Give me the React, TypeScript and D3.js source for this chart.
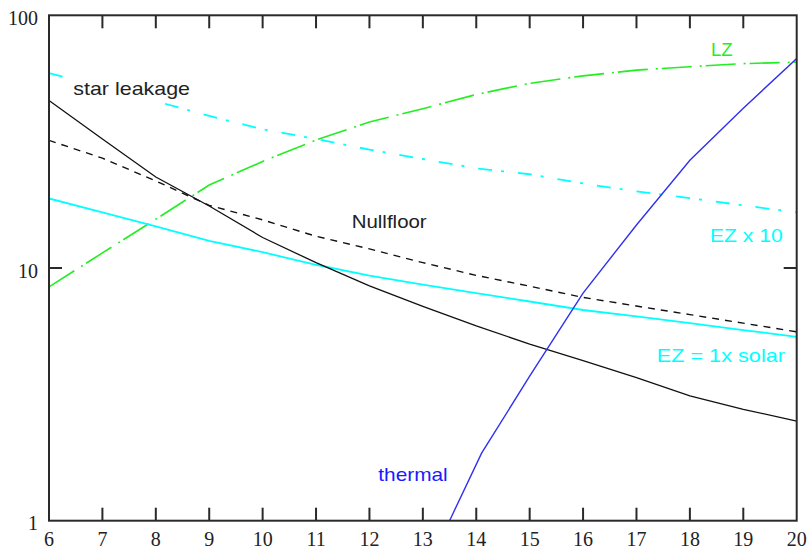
import React from "react";
import * as d3 from "d3";

// ---- data ----
const T = [6, 7, 8, 9, 10, 11, 12, 13, 14, 15, 16, 17, 18, 19, 20];
const starLeakage = [46, 32.4, 22.9, 17.6, 13.2, 10.5, 8.5, 7.05, 5.9, 5.0, 4.3, 3.68, 3.12, 2.76, 2.48];
const nullfloor = [32, 27.2, 22.1, 17.7, 15.5, 13.35, 11.9, 10.5, 9.35, 8.47, 7.65, 7.07, 6.54, 6.05, 5.59];
const ez1 = [18.84, 16.6, 14.6, 12.8, 11.55, 10.3, 9.33, 8.6, 7.95, 7.37, 6.82, 6.43, 6.05, 5.68, 5.34];
const ez10 = [59.1, 51.9, 45.7, 40.0, 35.4, 32.4, 29.4, 27.0, 24.8, 23.5, 21.6, 20.1, 18.9, 17.7, 16.6];
const lz = [8.42, 11.47, 15.6, 21.3, 26.4, 32.1, 37.8, 42.7, 48.6, 53.8, 57.6, 60.7, 62.6, 64.4, 65.2];
const thermalT = [13.5, 14.1, 15, 16, 17, 18, 19, 20];
const thermal = [1.0, 1.85, 3.73, 7.96, 14.8, 26.7, 42.9, 67.4];

const xTicks = [6, 7, 8, 9, 10, 11, 12, 13, 14, 15, 16, 17, 18, 19, 20];
const yTicks = [1, 10, 100];

const W = 807;
const H = 548;
const L = 49;
const R = 796.7;
const TOP = 15.3;
const BOT = 520.7;

export default function App() {
  const x = d3.scaleLinear().domain([6, 20]).range([L, R]);
  const y = d3.scaleLog().domain([1, 100]).range([BOT, TOP]);

  const line = d3
    .line<[number, number]>()
    .x((d) => x(d[0]))
    .y((d) => y(d[1]))
    .curve(d3.curveLinear);

  const pts = (ts: number[], vs: number[]) => ts.map((t, i) => [t, vs[i]] as [number, number]);

  const series = [
    { d: pts(T, ez10), color: "#00ffff", w: 1.8, dash: "14,9,3,14" },
    { d: pts(T, lz), color: "#22ee22", w: 1.6, dash: "30,8,2,4" },
    { d: pts(T, ez1), color: "#00ffff", w: 1.8, dash: undefined },
    { d: pts(T, nullfloor), color: "#111111", w: 1.4, dash: "7,6" },
    { d: pts(T, starLeakage), color: "#111111", w: 1.3, dash: undefined },
    { d: pts(thermalT, thermal), color: "#3030f0", w: 1.4, dash: undefined },
  ];

  const tickLen = 13;
  const axisColor = "#2a2a2a";
  const serif = "'Liberation Serif', 'DejaVu Serif', serif";
  const sans = "'Liberation Sans', Arial, sans-serif";

  const innerX = xTicks.slice(1, xTicks.length - 1);
  const innerY = yTicks.slice(1, yTicks.length - 1);

  return (
    <svg
      width={W}
      height={H}
      style={{ position: "absolute", left: 0, top: 0, background: "#ffffff" }}
    >
      <rect x={0} y={0} width={W} height={H} fill="#ffffff" />
      <defs>
        <clipPath id="plot">
          <rect x={L} y={TOP} width={R - L} height={BOT - TOP} />
        </clipPath>
      </defs>

      <g clipPath="url(#plot)">
        {series.map((s, i) => (
          <path
            key={i}
            d={line(s.d) || ""}
            fill="none"
            stroke={s.color}
            strokeWidth={s.w}
            strokeDasharray={s.dash}
          />
        ))}
      </g>

      {/* white backing behind the star leakage label */}
      <rect x={63} y={72} width={130} height={31} fill="#ffffff" />

      {/* frame */}
      <rect x={L} y={TOP} width={R - L} height={BOT - TOP} fill="none" stroke={axisColor} strokeWidth={2} />

      {/* ticks, inward on all four sides */}
      <g stroke={axisColor} strokeWidth={2}>
        {innerX.map((t) => (
          <line key={"tb" + t} x1={x(t)} x2={x(t)} y1={BOT} y2={BOT - tickLen} />
        ))}
        {innerX.map((t) => (
          <line key={"tt" + t} x1={x(t)} x2={x(t)} y1={TOP} y2={TOP + tickLen} />
        ))}
        {innerY.map((v) => (
          <line key={"tl" + v} x1={L} x2={L + tickLen} y1={y(v)} y2={y(v)} />
        ))}
        {innerY.map((v) => (
          <line key={"tr" + v} x1={R} x2={R - tickLen} y1={y(v)} y2={y(v)} />
        ))}
      </g>

      {/* x tick labels */}
      {xTicks.map((t) => (
        <text
          key={"xl" + t}
          x={x(t)}
          y={545.5}
          textAnchor="middle"
          fontFamily={serif}
          fontSize={20}
          fill="#222"
        >
          {t}
        </text>
      ))}

      {/* y tick labels */}
      {yTicks.map((v) => (
        <text
          key={"yl" + v}
          x={38}
          y={y(v) + 9.5}
          textAnchor="end"
          fontFamily={serif}
          fontSize={20}
          fill="#222"
        >
          {v}
        </text>
      ))}

      {/* annotations */}
      <text x={73.3} y={95} fontFamily={sans} fontSize={19} fill="#222" textLength={116.7} lengthAdjust="spacingAndGlyphs">
        star leakage
      </text>
      <text x={351.7} y={228.3} fontFamily={sans} fontSize={19} fill="#222" textLength={75} lengthAdjust="spacingAndGlyphs">
        Nullfloor
      </text>
      <text x={711} y={56} fontFamily={sans} fontSize={19} fill="#22ee22" textLength={21.7} lengthAdjust="spacingAndGlyphs">
        LZ
      </text>
      <text x={710} y={242.3} fontFamily={sans} fontSize={19} fill="#00ffff" textLength={72.7} lengthAdjust="spacingAndGlyphs">
        EZ x 10
      </text>
      <text x={656.7} y={361.7} fontFamily={sans} fontSize={19} fill="#00ffff" textLength={128.3} lengthAdjust="spacingAndGlyphs">
        EZ = 1x solar
      </text>
      <text x={378.3} y={481} fontFamily={sans} fontSize={19} fill="#1a1aff" textLength={69.4} lengthAdjust="spacingAndGlyphs">
        thermal
      </text>
    </svg>
  );
}
